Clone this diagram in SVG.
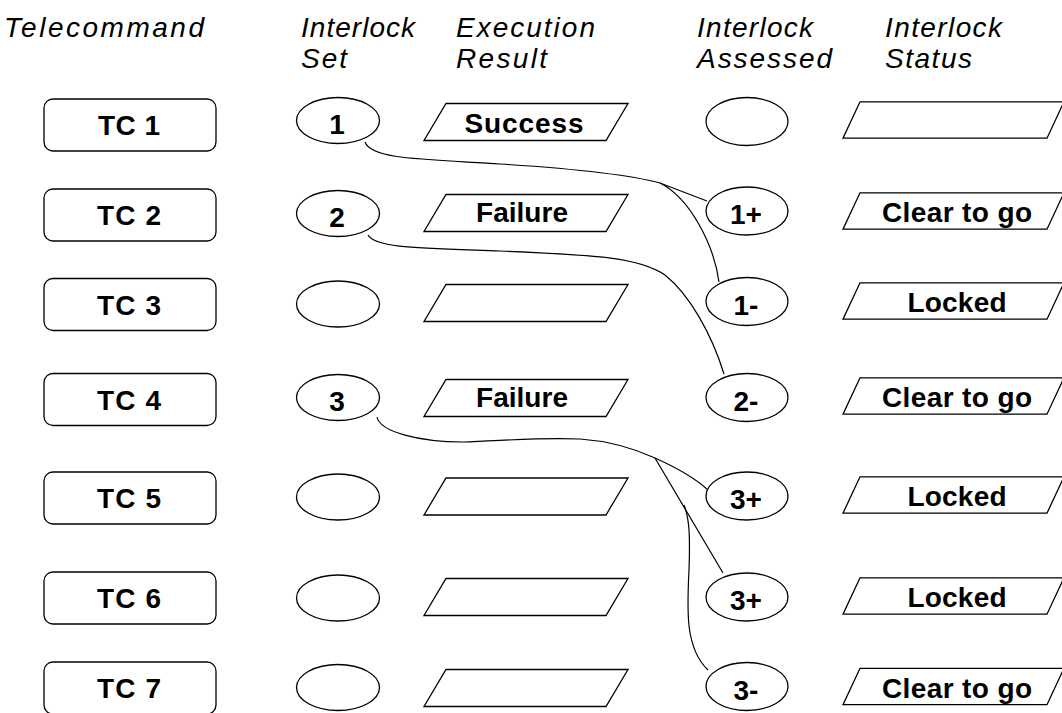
<svg xmlns="http://www.w3.org/2000/svg" width="1062" height="713" viewBox="0 0 1062 713">
<style>
.hdr{font-family:"Liberation Sans",Arial,sans-serif;font-style:italic;font-size:28px;fill:#000}
.lbl{font-family:"Liberation Sans",Arial,sans-serif;font-weight:bold;font-size:28px;fill:#000;text-anchor:middle}
.shape{fill:#fff;stroke:#000;stroke-width:1.3}
.conn{fill:none;stroke:#000;stroke-width:1.2}
</style>
<rect width="1062" height="713" fill="#fff"/>
<g id="headers">
<text class="hdr" x="4" y="37" textLength="200" lengthAdjust="spacing">Telecommand</text>
<text class="hdr" x="301" y="37" textLength="114" lengthAdjust="spacing">Interlock</text>
<text class="hdr" x="301" y="68" textLength="46" lengthAdjust="spacing">Set</text>
<text class="hdr" x="456" y="37" textLength="139" lengthAdjust="spacing">Execution</text>
<text class="hdr" x="456" y="68" textLength="91" lengthAdjust="spacing">Result</text>
<text class="hdr" x="697" y="37" textLength="116" lengthAdjust="spacing">Interlock</text>
<text class="hdr" x="697" y="68" textLength="135" lengthAdjust="spacing">Assessed</text>
<text class="hdr" x="885" y="37" textLength="117" lengthAdjust="spacing">Interlock</text>
<text class="hdr" x="885" y="68" textLength="87" lengthAdjust="spacing">Status</text>
</g>
<g id="connectors">
<path class="conn" d="M365,142 C371,159 420,159 500,164 C580,169 630,175 660,183 L707,201"/>
<path class="conn" d="M660,183 C690,198 714,245 719,282"/>
<path class="conn" d="M368,235 C375,248 420,248 500,251 C600,255 640,258 665,275 C690,295 712,335 724,374"/>
<path class="conn" d="M377,417 C380,432 420,442 463,442 C500,441 540,437 580,439 C610,441 635,449 655,458 C675,467 695,478 708,490"/>
<path class="conn" d="M655,458 L723,573"/>
<path class="conn" d="M684,505 C690,520 690,540 689,570 C687,610 685,648 708,670"/>
</g>
<g id="tc1"><rect class="shape" x="44" y="99" width="172" height="52" rx="9"/><text class="lbl" x="129" y="135" textLength="62" lengthAdjust="spacing">TC 1</text></g>
<g id="tc2"><rect class="shape" x="44" y="189" width="172" height="52" rx="9"/><text class="lbl" x="129" y="225" textLength="64" lengthAdjust="spacing">TC 2</text></g>
<g id="tc3"><rect class="shape" x="44" y="278.5" width="172" height="52" rx="9"/><text class="lbl" x="129" y="314.5" textLength="64" lengthAdjust="spacing">TC 3</text></g>
<g id="tc4"><rect class="shape" x="44" y="373.5" width="172" height="52" rx="9"/><text class="lbl" x="129" y="409.5" textLength="64" lengthAdjust="spacing">TC 4</text></g>
<g id="tc5"><rect class="shape" x="44" y="472" width="172" height="52" rx="9"/><text class="lbl" x="129" y="508" textLength="64" lengthAdjust="spacing">TC 5</text></g>
<g id="tc6"><rect class="shape" x="44" y="572" width="172" height="52" rx="9"/><text class="lbl" x="129" y="608" textLength="64" lengthAdjust="spacing">TC 6</text></g>
<g id="tc7"><rect class="shape" x="44" y="662" width="172" height="52" rx="9"/><text class="lbl" x="129" y="698" textLength="64" lengthAdjust="spacing">TC 7</text></g>
<g id="set1"><ellipse class="shape" cx="338" cy="120.5" rx="41.5" ry="23"/><text class="lbl" x="337" y="134">1</text></g>
<g id="set2"><ellipse class="shape" cx="338" cy="213.5" rx="41.5" ry="23"/><text class="lbl" x="337" y="227">2</text></g>
<g id="set3"><ellipse class="shape" cx="338" cy="304" rx="41.5" ry="23"/></g>
<g id="set4"><ellipse class="shape" cx="338" cy="397.5" rx="41.5" ry="23"/><text class="lbl" x="337" y="411">3</text></g>
<g id="set5"><ellipse class="shape" cx="338" cy="497" rx="41.5" ry="23"/></g>
<g id="set6"><ellipse class="shape" cx="338" cy="598" rx="41.5" ry="23"/></g>
<g id="set7"><ellipse class="shape" cx="338" cy="687.5" rx="41.5" ry="23"/></g>
<g id="res1"><polygon class="shape" points="446,103.5 628,103.5 606,140.5 424,140.5"/><text class="lbl" x="524" y="133" textLength="119" lengthAdjust="spacing">Success</text></g>
<g id="res2"><polygon class="shape" points="446,194.5 628,194.5 606,231.5 424,231.5"/><text class="lbl" x="522" y="222" textLength="92" lengthAdjust="spacing">Failure</text></g>
<g id="res3"><polygon class="shape" points="446,284.5 628,284.5 606,321.5 424,321.5"/></g>
<g id="res4"><polygon class="shape" points="446,379.5 628,379.5 606,416.5 424,416.5"/><text class="lbl" x="522" y="407" textLength="92" lengthAdjust="spacing">Failure</text></g>
<g id="res5"><polygon class="shape" points="446,478 628,478 606,515 424,515"/></g>
<g id="res6"><polygon class="shape" points="446,578.5 628,578.5 606,615.5 424,615.5"/></g>
<g id="res7"><polygon class="shape" points="446,669.5 628,669.5 606,706.5 424,706.5"/></g>
<g id="ass1"><ellipse class="shape" cx="747" cy="121.5" rx="41" ry="24"/></g>
<g id="ass2"><ellipse class="shape" cx="747" cy="211" rx="41" ry="24"/><text class="lbl" x="746" y="224">1+</text></g>
<g id="ass3"><ellipse class="shape" cx="747" cy="301.5" rx="41" ry="24"/><text class="lbl" x="746" y="314.5">1-</text></g>
<g id="ass4"><ellipse class="shape" cx="747" cy="397.5" rx="41" ry="24"/><text class="lbl" x="746" y="410.5">2-</text></g>
<g id="ass5"><ellipse class="shape" cx="747" cy="496" rx="41" ry="24"/><text class="lbl" x="746" y="509">3+</text></g>
<g id="ass6"><ellipse class="shape" cx="747" cy="597" rx="41" ry="24"/><text class="lbl" x="746" y="610">3+</text></g>
<g id="ass7"><ellipse class="shape" cx="747" cy="686.5" rx="41" ry="24"/><text class="lbl" x="746" y="699.5">3-</text></g>
<g id="st1"><polygon class="shape" points="860,101.8 1064,101.8 1047,138.2 843,138.2"/></g>
<g id="st2"><polygon class="shape" points="860,192.8 1064,192.8 1047,229.2 843,229.2"/><text class="lbl" x="957" y="222" textLength="150" lengthAdjust="spacing">Clear to go</text></g>
<g id="st3"><polygon class="shape" points="860,282.8 1064,282.8 1047,319.2 843,319.2"/><text class="lbl" x="957" y="312" textLength="99" lengthAdjust="spacing">Locked</text></g>
<g id="st4"><polygon class="shape" points="860,377.8 1064,377.8 1047,414.2 843,414.2"/><text class="lbl" x="957" y="407" textLength="150" lengthAdjust="spacing">Clear to go</text></g>
<g id="st5"><polygon class="shape" points="860,476.8 1064,476.8 1047,513.2 843,513.2"/><text class="lbl" x="957" y="506" textLength="99" lengthAdjust="spacing">Locked</text></g>
<g id="st6"><polygon class="shape" points="860,577.8 1064,577.8 1047,614.2 843,614.2"/><text class="lbl" x="957" y="607" textLength="99" lengthAdjust="spacing">Locked</text></g>
<g id="st7"><polygon class="shape" points="860,668.3 1064,668.3 1047,704.7 843,704.7"/><text class="lbl" x="957" y="697.5" textLength="150" lengthAdjust="spacing">Clear to go</text></g>
</svg>
